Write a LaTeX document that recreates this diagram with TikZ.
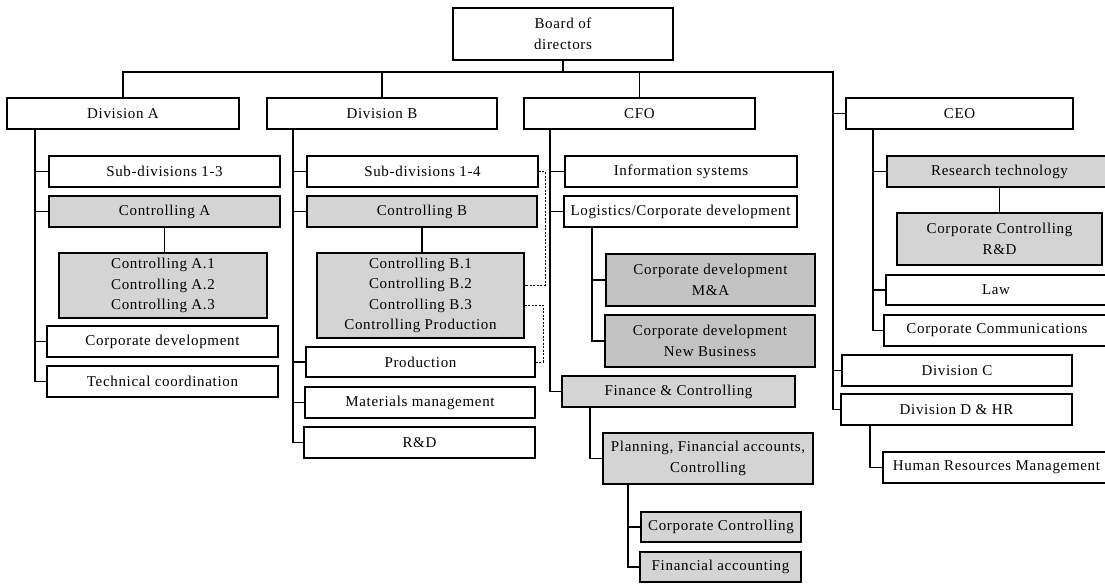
\documentclass[tikz,border=0pt]{standalone}
\usepackage{fontspec}
\setmainfont{Liberation Serif}[LetterSpace=4.5]
\begin{document}
\begin{tikzpicture}[x=1pt,y=-1pt,
  unit/.style={draw=black, line width=1.1pt, inner sep=0pt, align=center,
    font=\fontsize{15}{20.5}\selectfont},
  plain/.style={unit, fill=white},
  shaded/.style={unit, fill=black!17},
  darkshaded/.style={unit, fill=black!24},
  link/.style={draw=black, line width=1.2pt},
  dashlink/.style={draw=black, line width=0.8pt, dash pattern=on 2pt off 1.5pt}]
\useasboundingbox (0,0) rectangle (1105,584);

% box helper: style, name, left, top, right, bottom, text
\newcommand{\orgbox}[7]{%
  \node[#1, minimum width={(#5)-(#3)}, minimum height={(#6)-(#4)}]
    (#2) at ({((#3)+(#5))/2},{((#4)+(#6))/2}) {#7};}

% top level
\orgbox{plain}{board}{453}{8}{673}{60}{Board of\\directors}
\orgbox{plain}{diva}{7}{98}{239}{129}{Division A}
\orgbox{plain}{divb}{267}{98}{497}{129}{Division B}
\orgbox{plain}{cfo}{524}{98}{755}{129}{CFO}
\orgbox{plain}{ceo}{846}{98}{1073}{129}{CEO}

% Division A
\orgbox{plain}{subA}{49}{156}{280}{187}{Sub-divisions 1-3}
\orgbox{shaded}{ctrA}{49}{196}{280}{227}{Controlling A}
\orgbox{shaded}{ctrAx}{59}{253}{267}{318}{Controlling A.1\\Controlling A.2\\Controlling A.3}
\orgbox{plain}{corpdevA}{47}{326}{278}{357}{Corporate development}
\orgbox{plain}{techco}{47}{366}{278}{397}{Technical coordination}

% Division B
\orgbox{plain}{subB}{307}{156}{538}{187}{Sub-divisions 1-4}
\orgbox{shaded}{ctrB}{307}{196}{537}{227}{Controlling B}
\orgbox{shaded}{ctrBx}{317}{253}{524}{338}{Controlling B.1\\Controlling B.2\\Controlling B.3\\Controlling Production}
\orgbox{plain}{prod}{306}{347}{535}{377}{Production}
\orgbox{plain}{matman}{305}{387}{535}{418}{Materials management}
\orgbox{plain}{rdB}{304}{427}{535}{458}{R\&D}

% CFO
\orgbox{plain}{infosys}{565}{156}{797}{187}{Information systems}
\orgbox{plain}{logist}{564}{196}{797}{227}{Logistics/Corporate development}
\orgbox{darkshaded}{cdma}{606}{254}{815}{306}{Corporate development\\M\&A}
\orgbox{darkshaded}{cdnb}{605}{315}{815}{367}{Corporate development\\New Business}
\orgbox{shaded}{fincon}{562}{376}{795}{407}{Finance \& Controlling}
\orgbox{shaded}{planning}{603}{433}{813}{484}{Planning, Financial accounts,\\Controlling}
\orgbox{shaded}{corpcon}{641}{512}{801}{542}{Corporate Controlling}
\orgbox{shaded}{finacc}{640}{552}{801}{582}{Financial accounting}

% CEO
\orgbox{shaded}{restech}{887}{156}{1112}{187}{Research technology}
\orgbox{shaded}{ccrd}{897}{213}{1102}{265}{Corporate Controlling\\R\&D}
\orgbox{plain}{law}{886}{275}{1106}{305}{Law}
\orgbox{plain}{comms}{884}{315}{1110}{346}{Corporate Communications}
\orgbox{plain}{divc}{842}{355}{1072}{386}{Division C}
\orgbox{plain}{divd}{841}{394}{1072}{425}{Division D \& HR}
\orgbox{plain}{hrm}{883}{452}{1110}{483}{Human Resources Management}

% trunk positions
\coordinate (bus) at (0,72);
\coordinate (rtrunk) at (833,0);
\coordinate (tA) at (35,0);
\coordinate (tB) at (293,0);
\coordinate (tC) at (550,0);
\coordinate (tL) at (592,0);
\coordinate (tF) at (590,0);
\coordinate (tP) at (628,0);
\coordinate (tE) at (873,0);
\coordinate (tD) at (870,0);

% board level bus
\draw[link] (board.south) -- (board.south |- bus);
\draw[link] (diva.north) -- (diva.north |- bus) -- (rtrunk |- bus)
  -- (rtrunk |- divd.west) -- (divd.west);
\draw[link] (divb.north) -- (divb.north |- bus);
\draw[link] (cfo.north) -- (cfo.north |- bus);
\draw[link] (rtrunk |- ceo.west) -- (ceo.west);
\draw[link] (rtrunk |- divc.west) -- (divc.west);

% Division A
\draw[link] (tA |- diva.south) |- (techco.west);
\draw[link] (tA |- subA.west) -- (subA.west);
\draw[link] (tA |- ctrA.west) -- (ctrA.west);
\draw[link] (tA |- corpdevA.west) -- (corpdevA.west);
\draw[link] (ctrA.south) -- (ctrA.south |- ctrAx.north);

% Division B
\draw[link] (tB |- divb.south) |- (rdB.west);
\draw[link] (tB |- subB.west) -- (subB.west);
\draw[link] (tB |- ctrB.west) -- (ctrB.west);
\draw[link] (tB |- prod.west) -- (prod.west);
\draw[link] (tB |- matman.west) -- (matman.west);
\draw[link] (ctrB.south) -- (ctrB.south |- ctrBx.north);

% dashed cross links
\coordinate (dA) at (545,285);
\coordinate (dB) at (543,305);
\draw[dashlink] (subB.east) -| (dA) -- (dA -| ctrBx.east);
\draw[dashlink] (dB -| ctrBx.east) -- (dB) |- (prod.east);

% CFO
\draw[link] (tC |- cfo.south) |- (fincon.west);
\draw[link] (tC |- infosys.west) -- (infosys.west);
\draw[link] (tC |- logist.west) -- (logist.west);
\draw[link] (tL |- logist.south) |- (cdnb.west);
\draw[link] (tL |- cdma.west) -- (cdma.west);
\draw[link] (tF |- fincon.south) |- (planning.west);
\draw[link] (tP |- planning.south) |- (finacc.west);
\draw[link] (tP |- corpcon.west) -- (corpcon.west);

% CEO
\draw[link] (tE |- ceo.south) |- (comms.west);
\draw[link] (tE |- restech.west) -- (restech.west);
\draw[link] (tE |- law.west) -- (law.west);
\draw[link] (ccrd.north |- restech.south) -- (ccrd.north);
\draw[link] (tD |- divd.south) |- (hrm.west);
\end{tikzpicture}
\end{document}
